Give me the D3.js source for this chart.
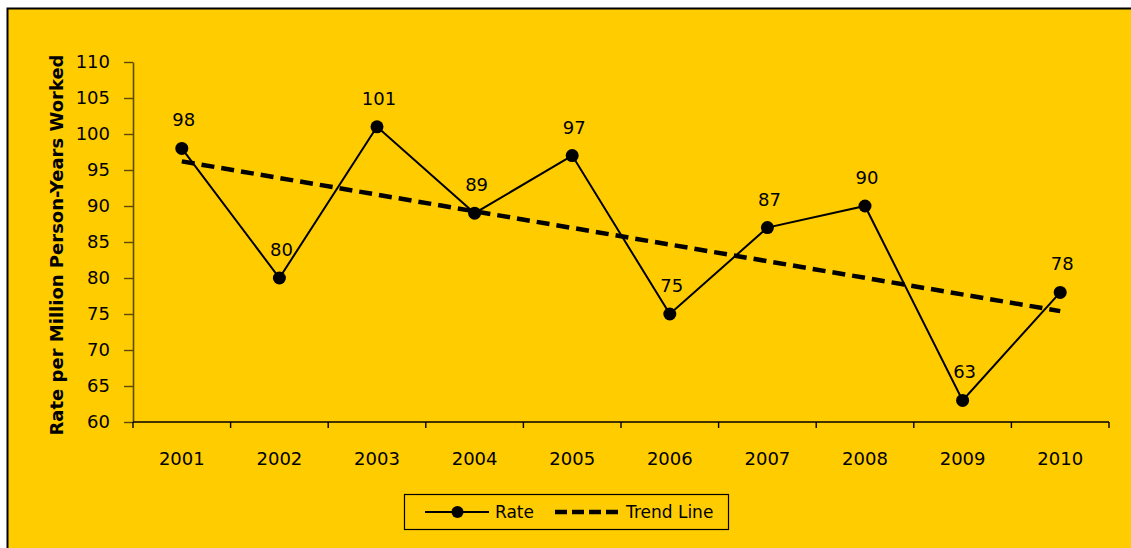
<!DOCTYPE html>
<html>
<head>
<meta charset="utf-8">
<script src="https://cdn.jsdelivr.net/npm/d3@7"></script>
<style>
  html, body { margin: 0; padding: 0; background: #ffffff; }
  svg { display: block; }
  text { font-family: "DejaVu Sans", Verdana, sans-serif; fill: #000; }
</style>
</head>
<body>
<svg id="chart" width="1131" height="548"></svg>
<script>
// Fatality rate per million person-years worked, 2001–2010
const years = ["2001", "2002", "2003", "2004", "2005", "2006", "2007", "2008", "2009", "2010"];
const rates = [98, 80, 101, 89, 97, 75, 87, 90, 63, 78];
// Linear trend line, value at the first and last year
const trendEnds = [96.2, 75.4];
const yTicks = [60, 65, 70, 75, 80, 85, 90, 95, 100, 105, 110];

const svg = d3.select("#chart");

// Yellow panel with a black frame on top and left
svg.append("rect")
  .attr("x", 7.5).attr("y", 8.5)
  .attr("width", 1140).attr("height", 560)
  .attr("fill", "#ffcc00")
  .attr("stroke", "#000").attr("stroke-width", 2);

const plot = { left: 133, right: 1109, top: 62, bottom: 422 };

const x = d3.scaleBand().domain(years).range([plot.left, plot.right]);
const y = d3.scaleLinear().domain([60, 110]).range([plot.bottom, plot.top]);
const cx = d => x(d) + x.bandwidth() / 2;

// Y axis
const yAxis = svg.append("g")
  .attr("transform", `translate(${plot.left},0)`)
  .call(d3.axisLeft(y).tickValues(yTicks).tickSize(9).tickPadding(14).tickSizeOuter(0));
yAxis.select(".domain").attr("stroke", "#5c4b00").attr("stroke-width", 1.6);
yAxis.selectAll(".tick line").attr("stroke", "#5c4b00").attr("stroke-width", 1.4);
yAxis.selectAll(".tick text")
  .style("font-family", "'DejaVu Sans', Verdana, sans-serif")
  .style("font-size", "18px").attr("fill", "#000");

// X axis: ticks sit on category boundaries
const xAxis = svg.append("g").attr("transform", `translate(0,${plot.bottom})`);
xAxis.append("line")
  .attr("x1", plot.left).attr("x2", plot.right)
  .attr("stroke", "#000").attr("stroke-width", 1.6);
xAxis.selectAll("line.tick")
  .data(years.concat(["end"]))
  .join("line")
  .attr("class", "tick")
  .attr("x1", (d, i) => plot.left + i * x.bandwidth())
  .attr("x2", (d, i) => plot.left + i * x.bandwidth())
  .attr("y1", 0).attr("y2", 6)
  .attr("stroke", "#000").attr("stroke-width", 1.4);
xAxis.selectAll("text")
  .data(years)
  .join("text")
  .attr("x", d => cx(d))
  .attr("y", 43)
  .attr("text-anchor", "middle")
  .style("font-size", "18px")
  .text(d => d);

// Y axis title
svg.append("text")
  .attr("transform", `translate(63,245) rotate(-90)`)
  .attr("text-anchor", "middle")
  .style("font-size", "18px")
  .style("font-weight", "bold")
  .text("Rate per Million Person-Years Worked");

// Trend line (dashed)
svg.append("line")
  .attr("x1", cx(years[0])).attr("y1", y(trendEnds[0]))
  .attr("x2", cx(years[years.length - 1])).attr("y2", y(trendEnds[1]))
  .attr("stroke", "#000").attr("stroke-width", 4.5)
  .attr("stroke-dasharray", "13,7");

// Rate line with markers
const data = years.map((yr, i) => ({ yr, v: rates[i] }));
svg.append("path")
  .datum(data)
  .attr("fill", "none")
  .attr("stroke", "#000").attr("stroke-width", 2)
  .attr("d", d3.line().x(d => cx(d.yr)).y(d => y(d.v)));

svg.selectAll("circle.pt")
  .data(data)
  .join("circle")
  .attr("class", "pt")
  .attr("cx", d => cx(d.yr)).attr("cy", d => y(d.v))
  .attr("r", 6.5).attr("fill", "#000");

// Value labels
svg.selectAll("text.val")
  .data(data)
  .join("text")
  .attr("class", "val")
  .attr("x", d => cx(d.yr) + 2)
  .attr("y", d => y(d.v) - 22)
  .attr("text-anchor", "middle")
  .style("font-size", "18px")
  .text(d => d.v);

// Legend
const lg = svg.append("g");
lg.append("rect")
  .attr("x", 404.5).attr("y", 494.5).attr("width", 324).attr("height", 35)
  .attr("fill", "none").attr("stroke", "#000").attr("stroke-width", 1.2);
lg.append("line")
  .attr("x1", 425).attr("x2", 489).attr("y1", 512).attr("y2", 512)
  .attr("stroke", "#000").attr("stroke-width", 2);
lg.append("circle").attr("cx", 457.5).attr("cy", 512).attr("r", 6).attr("fill", "#000");
lg.append("text").attr("x", 495).attr("y", 518).style("font-size", "17px").text("Rate");
lg.append("line")
  .attr("x1", 555).attr("x2", 620).attr("y1", 512).attr("y2", 512)
  .attr("stroke", "#000").attr("stroke-width", 4.5)
  .attr("stroke-dasharray", "12,5");
lg.append("text").attr("x", 626).attr("y", 518).style("font-size", "17px").text("Trend Line");
</script>
</body>
</html>
